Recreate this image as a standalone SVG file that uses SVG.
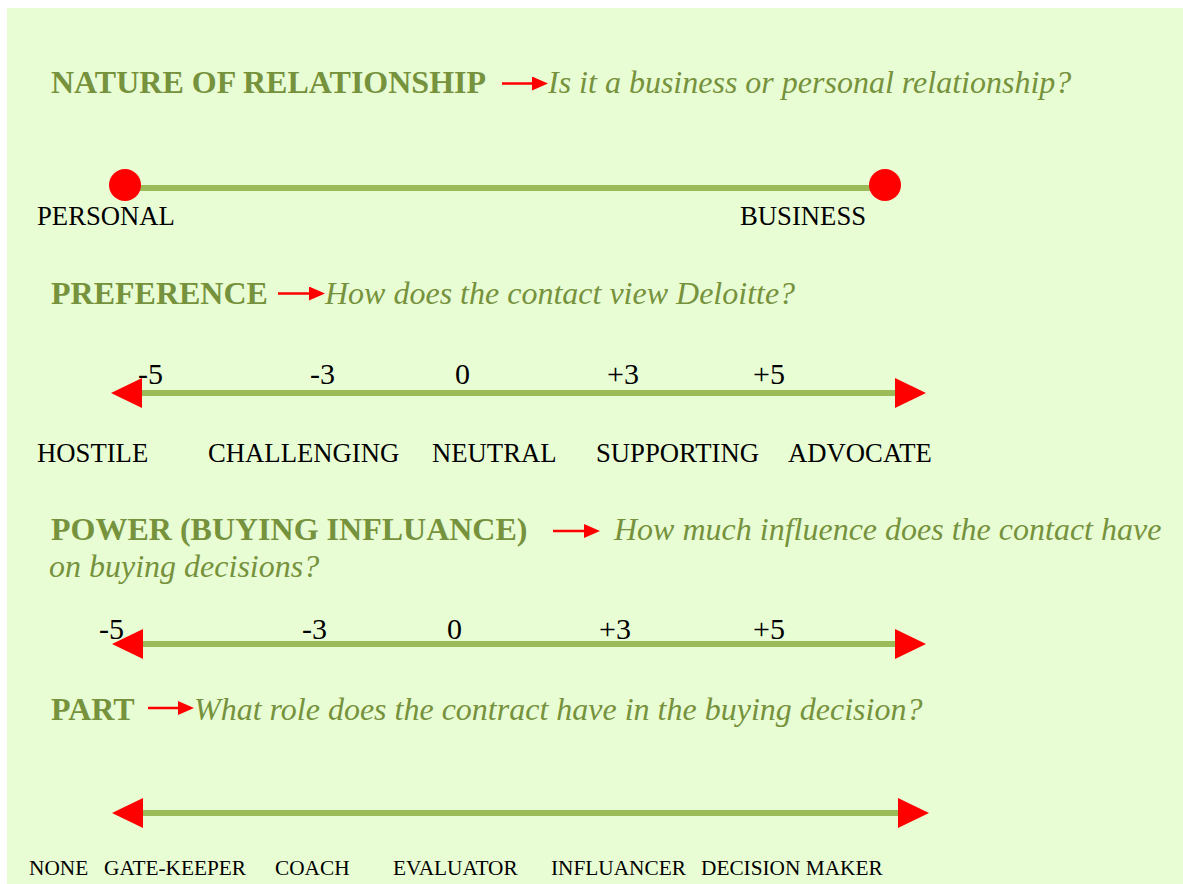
<svg xmlns="http://www.w3.org/2000/svg" width="1183" height="884" viewBox="0 0 1183 884">
<defs>
<style>
.title{font-family:"Liberation Serif","Times New Roman",serif;font-size:32px;font-weight:bold;fill:#76923C}
.q{font-family:"Liberation Serif","Times New Roman",serif;font-size:32px;font-style:italic;fill:#76923C}
.lbl{font-family:"Liberation Serif","Times New Roman",serif;font-size:26.7px;fill:#000}
.num{font-family:"Liberation Serif","Times New Roman",serif;font-size:30px;fill:#000}
.sm{font-family:"Liberation Serif","Times New Roman",serif;font-size:21.3px;fill:#000}
.scale{stroke:#9BBB59;stroke-width:6;fill:none}
.ptr{stroke:#FF0000;stroke-width:2.5;fill:none}
.dot{fill:#FF0000}
</style>
<marker id="bigHead" markerUnits="userSpaceOnUse" markerWidth="31" markerHeight="30" refX="0" refY="15" orient="auto-start-reverse" viewBox="0 0 31 30">
<path d="M0,0 L31,15 L0,30 Z" fill="#FF0000"/>
</marker>
<marker id="smallHead" markerUnits="userSpaceOnUse" markerWidth="16" markerHeight="14" refX="0" refY="7" orient="auto" viewBox="0 0 16 14">
<path d="M0,0 L16,7 L0,14 Z" fill="#FF0000"/>
</marker>
</defs>
<rect x="7" y="8" width="1176" height="876" fill="#E9FDD5"/>

<g id="connectors">
<line class="ptr" x1="502" y1="83.5" x2="532" y2="83.5" marker-end="url(#smallHead)"/>
<line class="scale" x1="125" y1="188" x2="885" y2="188"/>
<line class="ptr" x1="278" y1="293.5" x2="309" y2="293.5" marker-end="url(#smallHead)"/>
<line class="scale" x1="142" y1="393" x2="895" y2="393" marker-start="url(#bigHead)" marker-end="url(#bigHead)"/>
<line class="ptr" x1="553" y1="531" x2="584" y2="531" marker-end="url(#smallHead)"/>
<line class="scale" x1="143" y1="644" x2="895" y2="644" marker-start="url(#bigHead)" marker-end="url(#bigHead)"/>
<line class="ptr" x1="148" y1="708" x2="178" y2="708" marker-end="url(#smallHead)"/>
<line class="scale" x1="143" y1="813" x2="898" y2="813" marker-start="url(#bigHead)" marker-end="url(#bigHead)"/>
</g>

<g id="nature">
<text class="title" x="51" y="93">NATURE OF RELATIONSHIP</text>
<text class="q" x="548" y="93">Is it a business or personal relationship?</text>
<circle class="dot" cx="125" cy="185" r="16"/>
<circle class="dot" cx="885" cy="185" r="16"/>
<text class="lbl" x="37" y="225">PERSONAL</text>
<text class="lbl" x="740" y="225">BUSINESS</text>
</g>

<g id="preference">
<text class="title" x="51" y="304">PREFERENCE</text>
<text class="q" x="325" y="304">How does the contact view Deloitte?</text>
<text class="num" x="138" y="384">-5</text>
<text class="num" x="310" y="384">-3</text>
<text class="num" x="455" y="384">0</text>
<text class="num" x="607" y="384">+3</text>
<text class="num" x="753" y="384">+5</text>
<text class="lbl" x="37" y="462">HOSTILE</text>
<text class="lbl" x="208" y="462">CHALLENGING</text>
<text class="lbl" x="432" y="462">NEUTRAL</text>
<text class="lbl" x="596" y="462">SUPPORTING</text>
<text class="lbl" x="788" y="462">ADVOCATE</text>
</g>

<g id="power">
<text class="title" x="51" y="540">POWER (BUYING INFLUANCE)</text>
<text class="q" x="614" y="540">How much influence does the contact have</text>
<text class="q" x="49" y="577">on buying decisions?</text>
<text class="num" x="99" y="639">-5</text>
<text class="num" x="302" y="639">-3</text>
<text class="num" x="447" y="639">0</text>
<text class="num" x="599" y="639">+3</text>
<text class="num" x="753" y="639">+5</text>
</g>

<g id="part">
<text class="title" x="51" y="720">PART</text>
<text class="q" x="194" y="720">What role does the contract have in the buying decision?</text>
<text class="sm" x="29" y="875">NONE</text>
<text class="sm" x="104" y="875">GATE-KEEPER</text>
<text class="sm" x="275" y="875">COACH</text>
<text class="sm" x="393" y="875">EVALUATOR</text>
<text class="sm" x="551" y="875">INFLUANCER</text>
<text class="sm" x="701" y="875">DECISION MAKER</text>
</g>
</svg>
